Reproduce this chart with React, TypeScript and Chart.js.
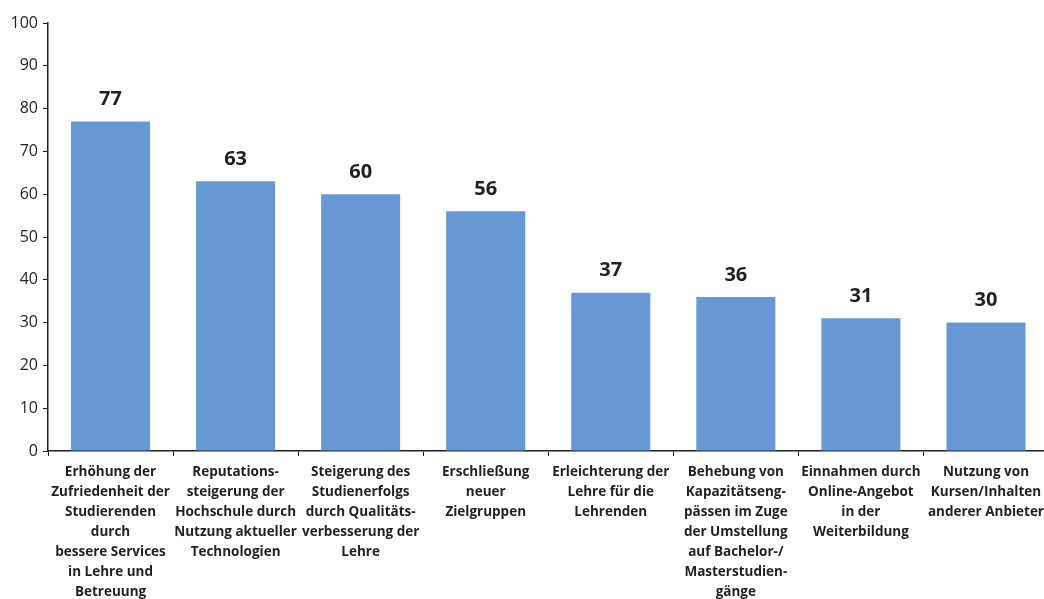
import React, { useEffect, useRef } from "react";
import { Chart, registerables } from "chart.js";

Chart.register(...registerables);

const categories: string[][] = [
  ["Erhöhung der", "Zufriedenheit der", "Studierenden", "durch", "bessere Services", "in Lehre und", "Betreuung"],
  ["Reputations-", "steigerung der", "Hochschule durch", "Nutzung aktueller", "Technologien"],
  ["Steigerung des", "Studienerfolgs", "durch Qualitäts-", "verbesserung der", "Lehre"],
  ["Erschließung", "neuer", "Zielgruppen"],
  ["Erleichterung der", "Lehre für die", "Lehrenden"],
  ["Behebung von", "Kapazitätseng-", "pässen im Zuge", "der Umstellung", "auf Bachelor-/", "Masterstudien-", "gänge"],
  ["Einnahmen durch", "Online-Angebot", "in der", "Weiterbildung"],
  ["Nutzung von", "Kursen/Inhalten", "anderer Anbieter"],
];

const values: number[] = [77, 63, 60, 56, 37, 36, 31, 30];

const FONT = "'Open Sans', 'Noto Sans', sans-serif";

const valueLabels = {
  id: "valueLabels",
  afterDatasetsDraw(chart: any) {
    const ctx = chart.ctx;
    const meta = chart.getDatasetMeta(0);
    ctx.save();
    ctx.font = `bold 20px ${FONT}`;
    ctx.fillStyle = "#231f20";
    ctx.textAlign = "center";
    ctx.textBaseline = "middle";
    meta.data.forEach((bar: any, i: number) => {
      ctx.fillText(String(values[i]), bar.x, bar.y - 22);
    });
    ctx.restore();
  },
};

export default function App() {
  const ref = useRef<HTMLCanvasElement>(null);
  useEffect(() => {
    if (!ref.current) return;
    const chart = new Chart(ref.current, {
      type: "bar",
      data: {
        labels: categories,
        datasets: [
          {
            data: values,
            backgroundColor: "#6699d3",
            categoryPercentage: 1,
            barPercentage: 0.632,
          },
        ],
      },
      options: {
        animation: false,
        responsive: false,
        maintainAspectRatio: false,
        layout: { padding: { top: 23, right: 0, left: 0, bottom: 0 } },
        plugins: { legend: { display: false }, tooltip: { enabled: false } },
        scales: {
          x: {
            afterFit: (s: any) => {
              s.height = 148;
            },
            grid: {
              offset: true,
              drawOnChartArea: false,
              drawTicks: true,
              tickLength: 5,
              color: "#231f20",
            },
            border: { display: true, color: "#231f20", width: 1.5 },
            ticks: {
              autoSkip: false,
              maxRotation: 0,
              minRotation: 0,
              padding: 6,
              color: "#231f20",
              font: { family: FONT, size: 13.5, weight: "bold", lineHeight: 20 / 13.5 },
            },
          },
          y: {
            min: 0,
            max: 100,
            afterFit: (s: any) => {
              s.width = 48;
            },
            grid: {
              drawOnChartArea: false,
              drawTicks: true,
              tickLength: 5,
              color: "#231f20",
            },
            border: { display: true, color: "#231f20", width: 1.5 },
            ticks: {
              stepSize: 10,
              padding: 5,
              color: "#231f20",
              font: { family: FONT, size: 16 },
            },
          },
        },
      },
      plugins: [valueLabels],
    });
    return () => chart.destroy();
  }, []);

  return (
    <div
      style={{
        position: "fixed",
        left: 0,
        top: 0,
        width: 1044,
        height: 599,
        overflow: "hidden",
        background: "#fff",
      }}
    >
      <canvas ref={ref} width={1050} height={599} style={{ display: "block", width: 1050, height: 599 }} />
    </div>
  );
}
